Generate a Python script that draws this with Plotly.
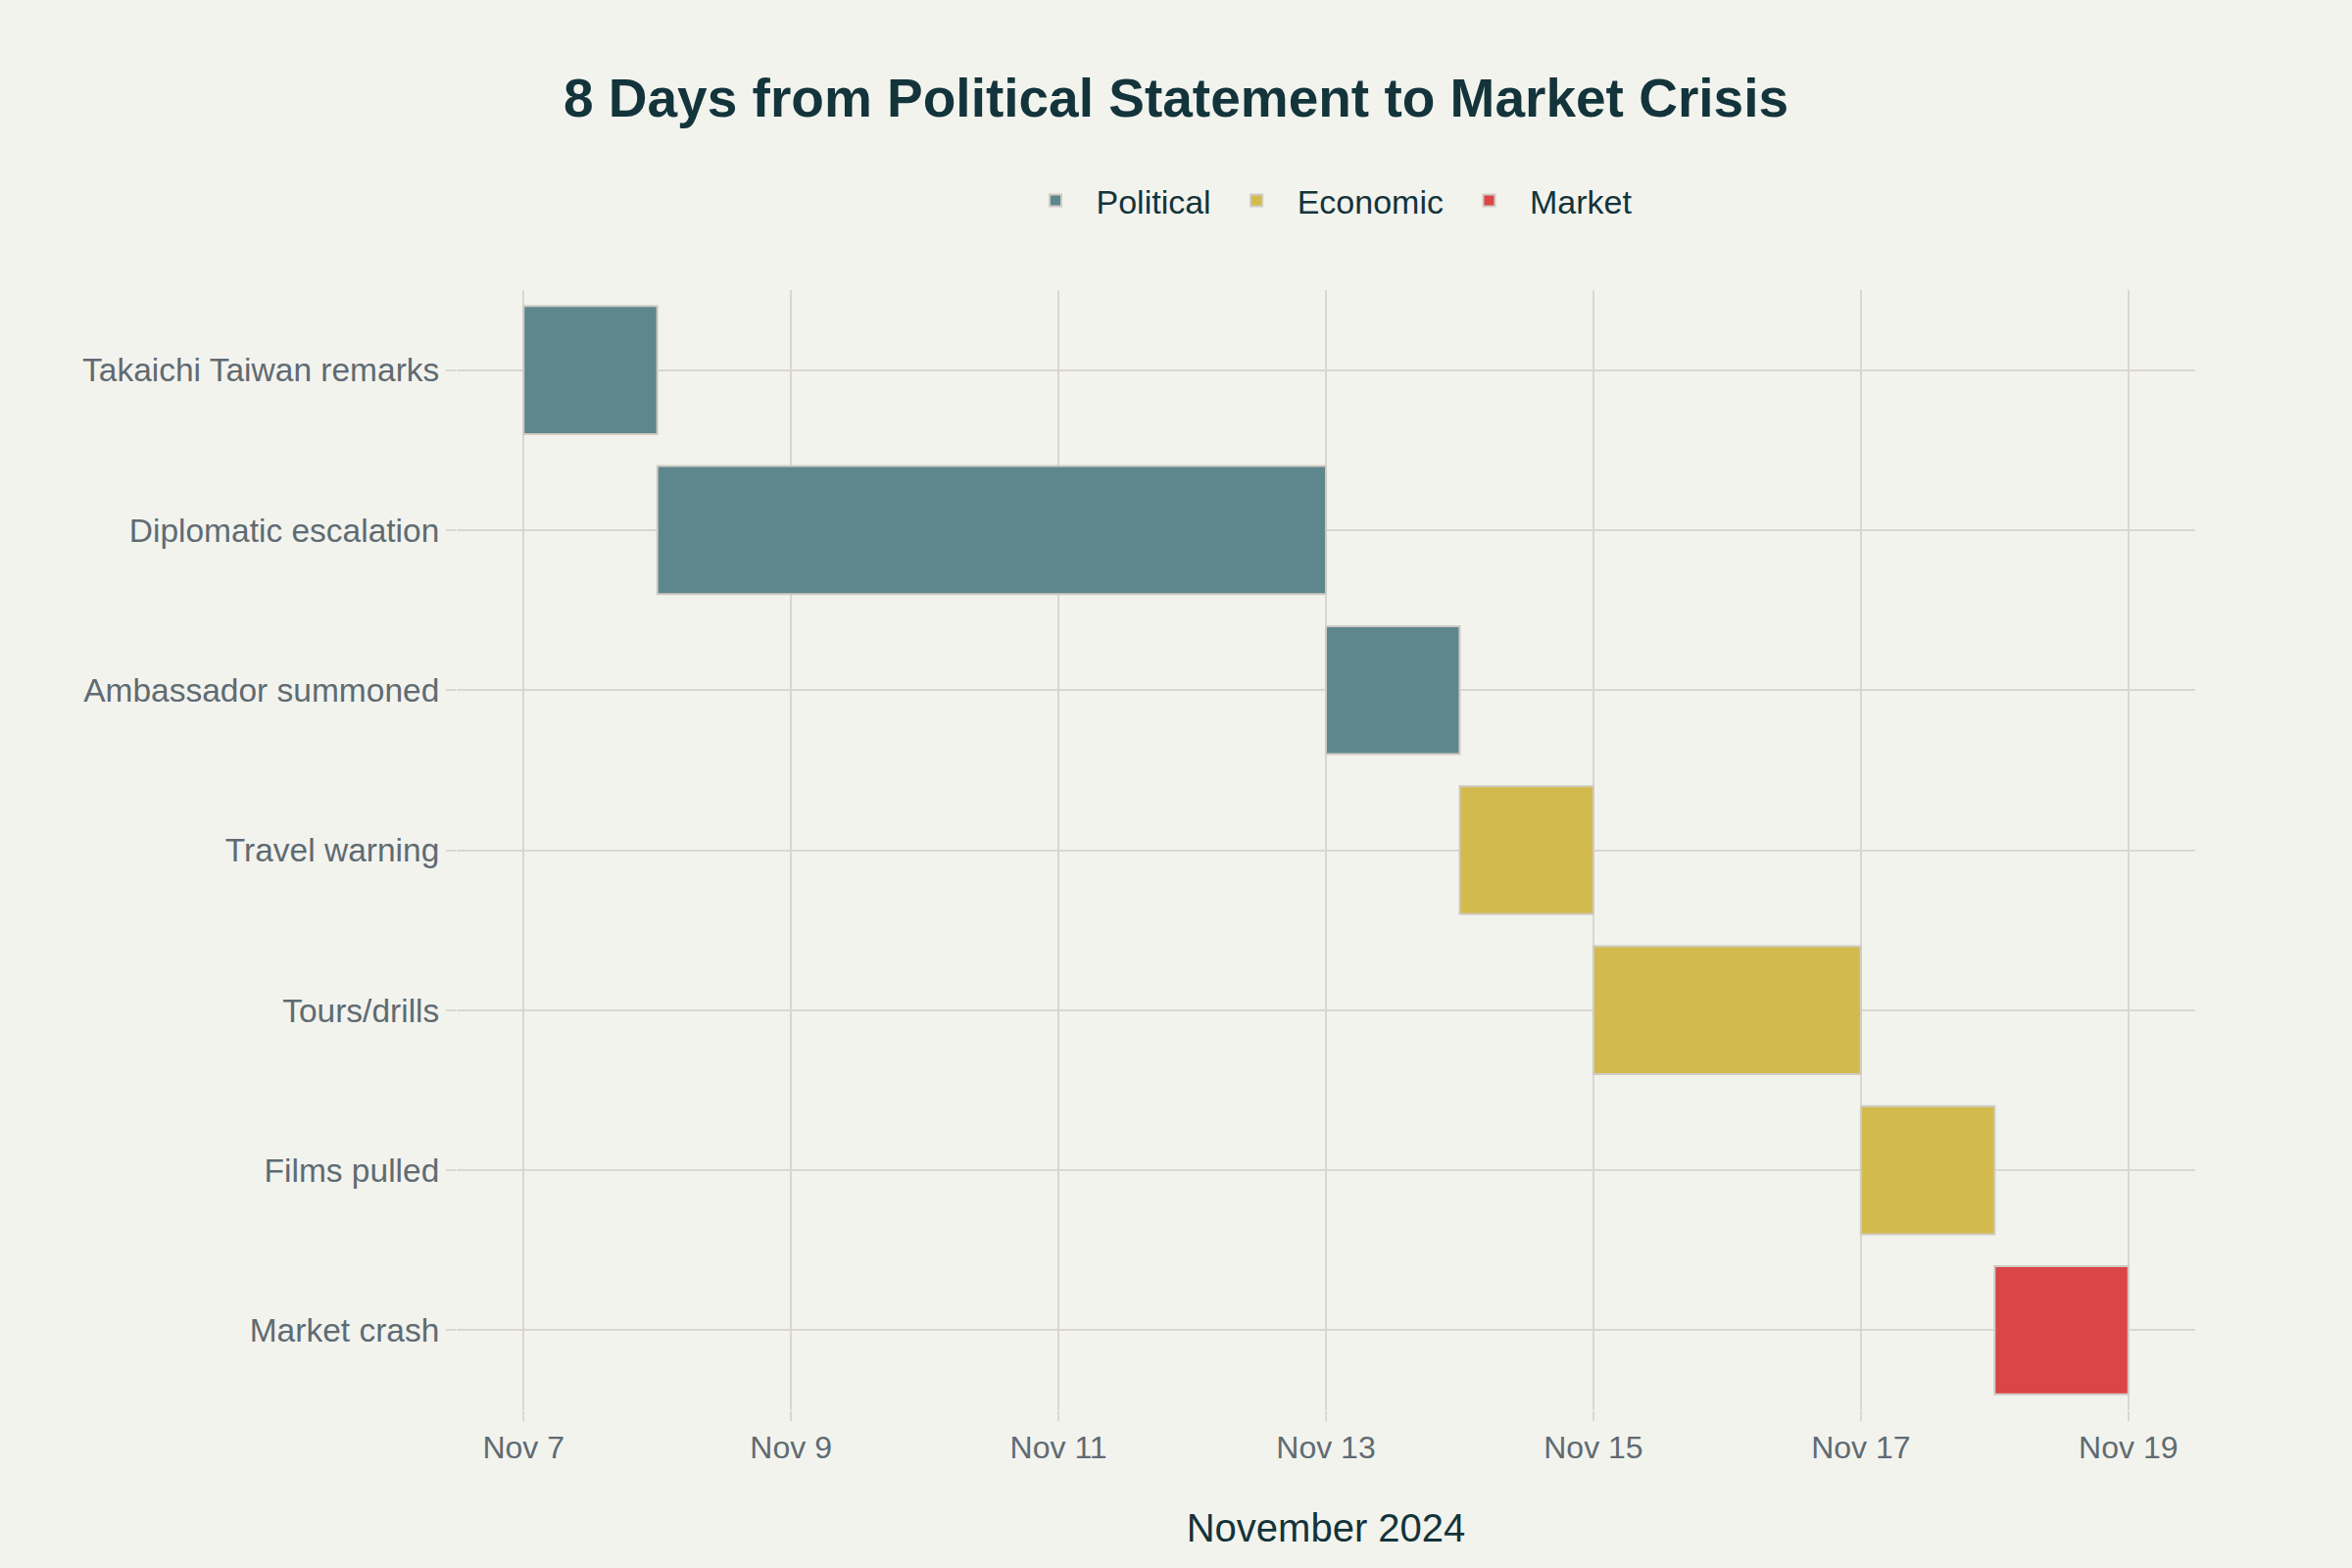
import plotly.graph_objects as go
import pandas as pd

events = ["Takaichi Taiwan remarks", "Diplomatic escalation", "Ambassador summoned",
          "Travel warning", "Tours/drills", "Films pulled", "Market crash"]
starts = ["2024-11-07", "2024-11-08", "2024-11-13", "2024-11-14", "2024-11-15", "2024-11-17", "2024-11-18"]
ends = ["2024-11-08", "2024-11-13", "2024-11-14", "2024-11-15", "2024-11-17", "2024-11-18", "2024-11-19"]
kinds = ["Political", "Political", "Political", "Economic", "Economic", "Economic", "Market"]

kind_order = ["Political", "Economic", "Market"]
kind_colors = {"Political": "#5E878D", "Economic": "#D3BA4C", "Market": "#DB4545"}

BG = "#F3F3EE"
GRID = "#DAD7D0"
DARK = "#13343B"
GREY = "#5F6B72"
FONT = "Liberation Sans, Arial, sans-serif"

fig = go.Figure()
for k in kind_order:
    idx = [i for i, kk in enumerate(kinds) if kk == k]
    s = pd.to_datetime([starts[i] for i in idx])
    e = pd.to_datetime([ends[i] for i in idx])
    dur_ms = [(b - a).total_seconds() * 1000 for a, b in zip(s, e)]
    fig.add_trace(go.Bar(
        name=k,
        orientation="h",
        y=[events[i] for i in idx],
        base=[starts[i] for i in idx],
        x=dur_ms,
        width=0.8,
        marker=dict(color=kind_colors[k], line=dict(color="#CFCBC3", width=2)),
    ))

fig.update_layout(
    width=2400, height=1600,
    paper_bgcolor=BG, plot_bgcolor=BG,
    barmode="overlay",
    margin=dict(l=466, r=160, t=296, b=161, autoexpand=False),
    font=dict(family=FONT, size=32, color=GREY),
    title=dict(text="<b>8 Days from Political Statement to Market Crisis</b>",
               x=0.5, xanchor="center", y=1 - 100 / 1600, yanchor="middle", yref="container",
               font=dict(family=FONT, size=55, color=DARK)),
    legend=dict(orientation="h", x=0.5, xanchor="center", y=1.0796, yanchor="middle",
                font=dict(size=34, color=DARK), bgcolor="rgba(0,0,0,0)",
                itemwidth=73),
    showlegend=True,
)
fig.update_xaxes(
    type="date",
    range=["2024-11-06 12:00", "2024-11-19 12:00"],
    tick0="2024-11-07", dtick=2 * 86400000,
    tickformat="%b %-d",
    showgrid=True, gridcolor=GRID, gridwidth=2,
    zeroline=False, showline=False,
    ticks="outside", ticklen=10, tickwidth=2, tickcolor=GRID,
    tickfont=dict(size=32, color=GREY),
    title=dict(text="November 2024", font=dict(size=40, color=DARK), standoff=50),
)
fig.update_yaxes(
    type="category",
    categoryorder="array", categoryarray=events,
    autorange="reversed",
    showgrid=True, gridcolor=GRID, gridwidth=2,
    zeroline=False, showline=False,
    ticks="outside", ticklen=10, tickwidth=2, tickcolor=GRID,
    tickfont=dict(size=33.5, color=GREY),
)

fig.write_html("out.html", config={"displayModeBar": False},
               post_script="document.body.style.margin='0';")
